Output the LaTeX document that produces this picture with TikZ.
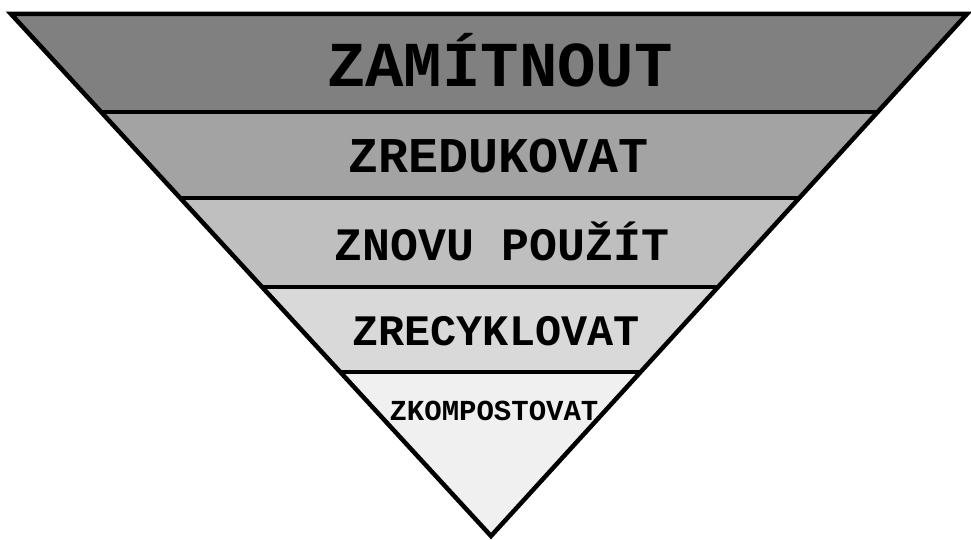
\documentclass[tikz,border=0pt]{standalone}
\usepackage{fontspec}
\setmonofont{Liberation Mono}
\usetikzlibrary{calc}

\begin{document}
\begin{tikzpicture}[x=1pt, y=-1pt,
  edge/.style={line width=4.5pt, line join=miter},
  tier/.style={font=\ttfamily\bfseries, anchor=base, inner sep=0pt}
]
\useasboundingbox (0,0) rectangle (971,540);
% triangle corners
\coordinate (tl) at (11,14);
\coordinate (tr) at (967,14);
\coordinate (ap) at (491,536);
\foreach \t [count=\i] in {0.1877,0.3525,0.523,0.6858} {
  \coordinate (l\i) at ($(tl)!\t!(ap)$);
  \coordinate (r\i) at ($(tr)!\t!(ap)$);
}
% bands
\fill[black!50] (tl) -- (tr) -- (r1) -- (l1) -- cycle;
\fill[black!36] (l1) -- (r1) -- (r2) -- (l2) -- cycle;
\fill[black!25] (l2) -- (r2) -- (r3) -- (l3) -- cycle;
\fill[black!15] (l3) -- (r3) -- (r4) -- (l4) -- cycle;
\fill[black!6] (l4) -- (r4) -- (ap) -- cycle;
\foreach \i in {1,...,4} \draw[edge] (l\i) -- (r\i);
\draw[edge] (tl) -- (tr) -- (ap) -- cycle;
% labels
\node[tier, font=\ttfamily\bfseries\fontsize{64}{70}\selectfont] (zamitnout) at (500,87) {ZAMÍTNOUT};
\node[tier, font=\ttfamily\bfseries\fontsize{50}{56}\selectfont] (zredukovat) at (499,173) {ZREDUKOVAT};
\node[tier, font=\ttfamily\bfseries\fontsize{46.5}{52}\selectfont] (pouzit) at (502,260) {ZNOVU POUŽÍT};
\node[tier, font=\ttfamily\bfseries\fontsize{43.5}{50}\selectfont] (zrecyklovat) at (496,345) {ZRECYKLOVAT};
\node[tier, font=\ttfamily\bfseries\fontsize{29}{34}\selectfont] (zkompostovat) at (494,420) {ZKOMPOSTOVAT};
\end{tikzpicture}
\end{document}
